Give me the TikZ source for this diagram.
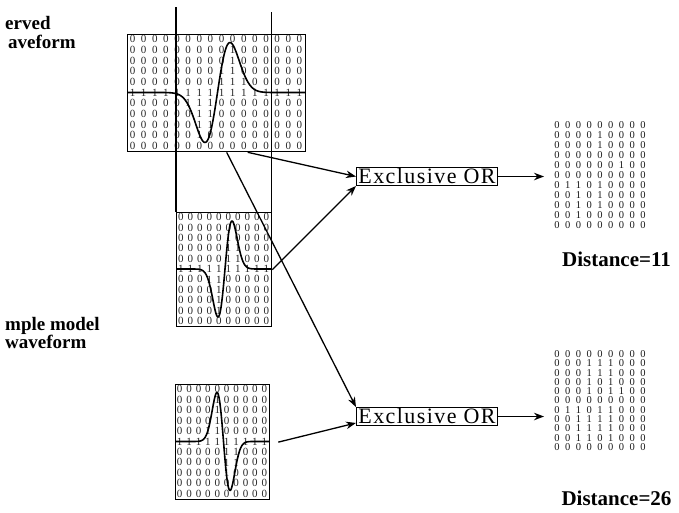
\documentclass[tikz,border=0pt]{standalone}
\usepackage{fontspec}
\setmainfont{Liberation Serif}
\newfontfamily\xorfont[LetterSpace=6.5]{Liberation Serif}
\usetikzlibrary{arrows.meta,calc}

% #1 name, #2 x0, #3 y0, #4 ncols, #5 cell width, #6 row height, #7 centre, #8 spread, #9 signed amplitude
\newcommand{\wavegrid}[9]{%
  \pgfmathsetmacro\wgW{#4*#5}%
  \pgfmathsetmacro\wgH{11*#6}%
  \pgfmathsetmacro\wgAx{#3+5.5*#6}%
  \pgfmathsetmacro\wgXe{#2+\wgW}%
  \foreach \i in {1,...,#4}{%
    \foreach \j in {1,...,11}{%
      \pgfmathsetmacro\wgx{#2+(\i-0.5)*#5}%
      \pgfmathsetmacro\wgy{#3+(\j-0.5)*#6}%
      \pgfmathsetmacro\wgt{(\wgx-#7)/#8}%
      \pgfmathsetmacro\wgDD{(#9)*(\wgt)*exp((1-(\wgt)*(\wgt))/2)}%
      \pgfmathsetmacro\wgdd{\wgy-\wgAx}%
      \pgfmathtruncatemacro\wgv{(abs(\wgdd)<1)||(((\wgdd)*(\wgDD)>0)&&(abs(\wgdd)<=abs(\wgDD)+1))}%
      \node[gdigit] (#1-\i-\j) at (\wgx,\wgy) {\wgv};
    }%
  }%
  \node[gridbox, minimum width=\wgW pt, minimum height=\wgH pt, anchor=north west] (#1) at (#2,#3) {};
  \draw[wave] plot[domain=#2:\wgXe, samples=180, variable=\x]
    ({\x},{\wgAx+(#9)*((\x-#7)/#8)*exp((1-((\x-#7)/#8)*((\x-#7)/#8))/2)});
}

\begin{document}
\begin{tikzpicture}[x=1pt,y=-1pt,
  gdigit/.style={font=\fontsize{11}{11}\selectfont, text=black!85, inner sep=0pt},
  mdigit/.style={font=\fontsize{10.5}{10.5}\selectfont, text=black!90, inner sep=0pt},
  gridbox/.style={draw, line width=1.3pt, inner sep=0pt},
  wave/.style={line width=1.6pt, line join=round},
  conn/.style={line width=1.3pt, -{Stealth[length=10pt,width=7.5pt]}},
  xorbox/.style={draw, line width=0.9pt, font=\xorfont\fontsize{22}{22}\selectfont,
    inner xsep=2pt, inner ysep=1.5pt, text height=14.5pt, text depth=0.5pt},
  lbl/.style={font=\bfseries\fontsize{19}{19}\selectfont, anchor=base west, inner sep=0pt},
  dist/.style={font=\bfseries\fontsize{21}{21}\selectfont, anchor=base, inner sep=0pt}]
\useasboundingbox (0,0) rectangle (679,512);

% labels
\node[lbl] (l1) at (5,29) {erved};
\node[lbl] (l2) at (8,48) {aveform};
\node[lbl] (l3) at (5,330) {mple model};
\node[lbl] (l4) at (5,348) {waveform};

% waveform grids
\wavegrid{g1}{127}{34}{16}{11.125}{10.636}{217.5}{12.5}{-50}
\wavegrid{g2}{176}{212}{10}{9.5}{10.364}{225}{7}{-48}
\wavegrid{g3}{175}{384}{10}{9.4}{10.45}{223.5}{6.5}{49}

% long vertical guide lines
\draw[line width=1.2pt] (176,7) -- (176,212);
\draw[line width=0.9pt] (271,12) -- (271,212);

% exclusive OR boxes
\node[xorbox] (xor1) at (427,176.5) {Exclusive OR};
\node[xorbox] (xor2) at (427,416.5) {Exclusive OR};

% result matrices
\foreach \row [count=\j] in {
  {0,0,0,0,0,0,0,0,0},{0,0,0,0,1,0,0,0,0},{0,0,0,0,1,0,0,0,0},{0,0,0,0,0,0,0,0,0},
  {0,0,0,0,0,0,1,0,0},{0,0,0,0,0,0,0,0,0},{0,1,1,0,1,0,0,0,0},{0,0,1,0,1,0,0,0,0},
  {0,0,1,0,1,0,0,0,0},{0,0,1,0,0,0,0,0,0},{0,0,0,0,0,0,0,0,0}}{
  \foreach \v [count=\i] in \row {
    \node[mdigit] (ma-\i-\j) at ({557+(\i-1)*10.75},{125+(\j-1)*10}) {\v};
  }
}
\foreach \row [count=\j] in {
  {0,0,0,0,0,0,0,0,0},{0,0,0,1,1,1,0,0,0},{0,0,0,1,1,1,0,0,0},{0,0,0,1,0,1,0,0,0},
  {0,0,0,1,0,1,1,0,0},{0,0,0,0,0,0,0,0,0},{0,1,1,0,1,1,0,0,0},{0,0,1,1,1,1,0,0,0},
  {0,0,1,1,1,1,0,0,0},{0,0,1,1,0,1,0,0,0},{0,0,0,0,0,0,0,0,0}}{
  \foreach \v [count=\i] in \row {
    \node[mdigit] (mb-\i-\j) at ({557+(\i-1)*10.75},{354+(\j-1)*9.3}) {\v};
  }
}

\node[dist] (d1) at (616.5,266.5) {Distance=11};
\node[dist] (d2) at (616.5,505) {Distance=26};

% connectors
\coordinate (p1) at ([xshift=31pt]g1.south);
\coordinate (p3) at ([xshift=10pt]g1.south);
\coordinate (p4) at ([xshift=8pt]g3.east);
\coordinate (o1) at ([xshift=46pt]xor1.east);
\coordinate (o2) at ([xshift=46pt]xor2.east);
\draw[conn] (p1) -- (xor1.west);
\draw[conn] (g2.east) -- (xor1.south west);
\draw[conn] (p3) -- (xor2.north west);
\draw[conn] (p4) -- ([yshift=3pt]xor2.south west);
\draw[conn] (xor1.east) -- (o1);
\draw[conn] (xor2.east) -- (o2);
\end{tikzpicture}
\end{document}
